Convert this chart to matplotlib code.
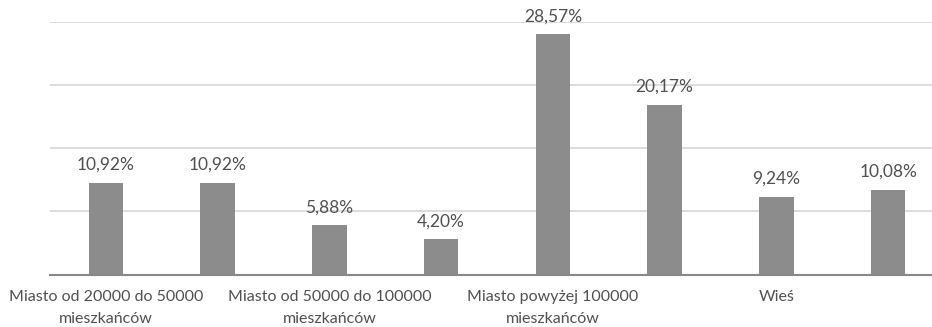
import matplotlib
matplotlib.use("Agg")
import matplotlib.pyplot as plt
from matplotlib.ticker import MultipleLocator

# Share of respondents by place of residence (two bars per group)
tick_labels = ["Miasto od 20000 do 50000\nmieszkańców", "",
               "Miasto od 50000 do 100000\nmieszkańców", "",
               "Miasto powyżej 100000\nmieszkańców", "",
               "Wieś", ""]
values = [10.92, 10.92, 5.88, 4.20, 28.57, 20.17, 9.24, 10.08]
value_labels = ["10,92%", "10,92%", "5,88%", "4,20%", "28,57%", "20,17%", "9,24%", "10,08%"]

plt.rcParams["font.family"] = ["Lato", "DejaVu Sans"]
text_color = "#505050"

fig = plt.figure(figsize=(9.32, 3.27), dpi=100)
ax = fig.add_axes([50 / 932, 52.5 / 327, 894 / 932, (274.5 - 22) / 327])

x = list(range(len(values)))
bars = ax.bar(x, values, width=0.31, color="#8c8c8c", zorder=3)

for rect, lab in zip(bars, value_labels):
    ax.annotate(lab, (rect.get_x() + rect.get_width() / 2, rect.get_height()),
                xytext=(0, 7), textcoords="offset points", ha="center", va="bottom",
                fontsize=12.5, color=text_color)

ax.set_xlim(-0.5, len(values) - 0.5)
ax.set_ylim(0, 30)
ax.yaxis.set_major_locator(MultipleLocator(7.5))
ax.grid(axis="y", color="#d9d9d9", linewidth=1.3, zorder=0)
ax.set_yticklabels([])
ax.tick_params(axis="y", length=0)

ax.set_xticks(x)
ax.set_xticklabels(tick_labels, fontsize=11.5, color=text_color, linespacing=1.75)
ax.tick_params(axis="x", length=0, pad=11)

for side in ("top", "right", "left"):
    ax.spines[side].set_visible(False)
ax.spines["bottom"].set_color("#878787")
ax.spines["bottom"].set_linewidth(1.5)
ax.spines["bottom"].set_zorder(4)

fig.savefig("out.png", dpi=100, facecolor="white")
